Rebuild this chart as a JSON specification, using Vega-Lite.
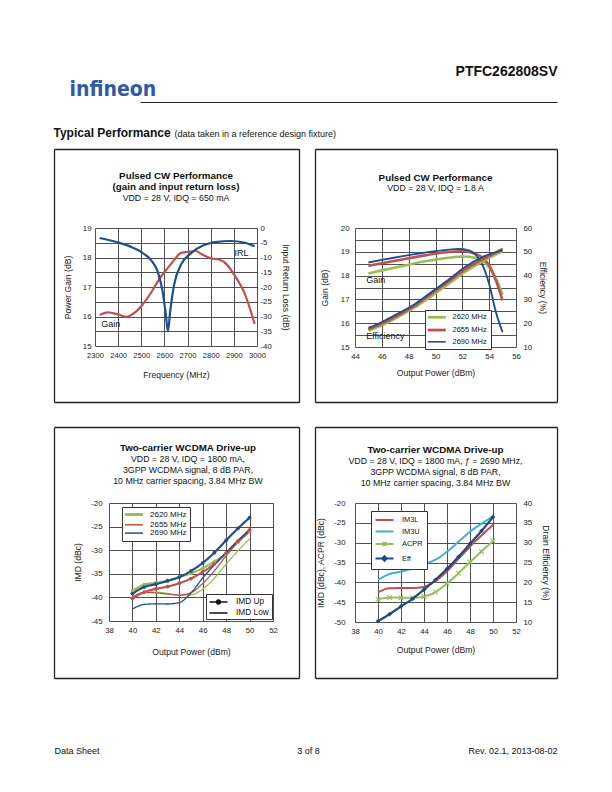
{
"$schema": "https://vega.github.io/schema/vega-lite/v6.json",
"background": "white",
"padding": {"left": 51, "top": 64, "right": 0, "bottom": 0},
"columns": 2,
"bounds": "flush",
"spacing": {"row": 156, "column": 82},
"resolve": {"scale": {"color": "independent", "strokeDash": "independent"}, "legend": {"color": "independent", "strokeDash": "independent"}},
"config": {
  "font": "Liberation Sans",
  "view": {"stroke": null},
  "axis": {"labelFont": "Liberation Sans", "labelFontSize": 7.8, "labelColor": "#222", "titleFont": "Liberation Sans", "titleFontSize": 8.6, "titleFontWeight": "normal", "titleColor": "#222", "ticks": false, "domain": false, "gridColor": "#3c3c3c", "gridWidth": 0.9, "gridOpacity": 1, "labelOverlap": false, "labelFlush": false},
  "title": {"font": "Liberation Sans", "fontSize": 9.8, "fontWeight": "bold", "color": "#111", "subtitleFont": "Liberation Sans", "subtitleFontSize": 8.8, "subtitleColor": "#111", "lineHeight": 11, "subtitleLineHeight": 11, "subtitlePadding": 2, "anchor": "middle", "frame": "group"},
  "legend": {"labelFont": "Liberation Sans", "labelFontSize": 7.8, "labelColor": "#111", "strokeColor": "#333", "fillColor": "white", "padding": 4}
},
"concat": [
{
  "width": 178, "height": 1,
  "data": {"values": [{"h": 0, "v": 0}]},
  "mark": {"type": "point", "opacity": 0},
  "encoding": {
    "x": {"field": "h", "type": "quantitative", "scale": {"domain": [0, 1], "range": [45, 462]},
      "axis": {"orient": "bottom", "offset": 30, "domain": true, "domainColor": "#222", "domainWidth": 1.2, "labels": false, "grid": false,
        "title": "Typical Performance", "titleFontSize": 12, "titleFontWeight": "bold", "titleColor": "#111", "titleX": -42, "titleY": 34, "titleAlign": "left", "titleBaseline": "alphabetic"}},
    "y": {"field": "v", "type": "quantitative", "scale": {"domain": [0, 1]},
      "axis": {"labels": false, "grid": false, "title": "infineon", "titleFont": "DejaVu Sans Condensed", "titleFontSize": 21, "titleFontWeight": "bold", "titleColor": "#2e5aa7", "titleAngle": 0, "titleX": -26, "titleY": 24, "titleAlign": "left", "titleBaseline": "alphabetic"}}
  }
},
{
  "width": 161, "height": 1,
  "data": {"values": [{"h": 0, "v": 0}]},
  "mark": {"type": "point", "opacity": 0},
  "encoding": {
    "x": {"field": "h", "type": "quantitative", "scale": {"domain": [0, 1]},
      "axis": {"orient": "bottom", "offset": 30, "labels": false, "grid": false,
        "title": "(data taken in a reference design fixture)", "titleFontSize": 9, "titleColor": "#111", "titleX": -181, "titleY": 34, "titleAlign": "left", "titleBaseline": "alphabetic"}},
    "y": {"field": "v", "type": "quantitative", "scale": {"domain": [0, 1]},
      "axis": {"labels": false, "grid": false, "title": "PTFC262808SV", "titleFontSize": 14, "titleFontWeight": "bold", "titleColor": "#111", "titleAngle": 0, "titleX": 202, "titleY": 4, "titleAlign": "right", "titleBaseline": "alphabetic"}}
  }
},
{
  "width": 162, "height": 118,
  "title": {"text": ["Pulsed CW Performance", "(gain and input return loss)"], "subtitle": "VDD = 28 V, IDQ = 650 mA", "offset": -54},
  "data": {"values": [
    {"f": 2320, "s": "Gain", "v": 16.05}, {"f": 2355, "s": "Gain", "v": 16.14}, {"f": 2400, "s": "Gain", "v": 16.07}, {"f": 2435, "s": "Gain", "v": 15.99},
    {"f": 2470, "s": "Gain", "v": 16.12}, {"f": 2505, "s": "Gain", "v": 16.40}, {"f": 2540, "s": "Gain", "v": 16.78}, {"f": 2578, "s": "Gain", "v": 17.27},
    {"f": 2613, "s": "Gain", "v": 17.63}, {"f": 2642, "s": "Gain", "v": 17.91}, {"f": 2668, "s": "Gain", "v": 18.14}, {"f": 2700, "s": "Gain", "v": 18.19},
    {"f": 2735, "s": "Gain", "v": 18.22}, {"f": 2764, "s": "Gain", "v": 18.10}, {"f": 2800, "s": "Gain", "v": 17.97}, {"f": 2836, "s": "Gain", "v": 17.93},
    {"f": 2871, "s": "Gain", "v": 17.75}, {"f": 2907, "s": "Gain", "v": 17.35}, {"f": 2943, "s": "Gain", "v": 16.85}, {"f": 2990, "s": "Gain", "v": 15.75},
    {"f": 2320, "s": "IRL", "v": -3.4}, {"f": 2400, "s": "IRL", "v": -4.9}, {"f": 2456, "s": "IRL", "v": -6.4}, {"f": 2499, "s": "IRL", "v": -8.1},
    {"f": 2542, "s": "IRL", "v": -10.9}, {"f": 2571, "s": "IRL", "v": -14.8}, {"f": 2592, "s": "IRL", "v": -21.5}, {"f": 2606, "s": "IRL", "v": -29.3},
    {"f": 2615, "s": "IRL", "v": -35.0}, {"f": 2625, "s": "IRL", "v": -28.2}, {"f": 2642, "s": "IRL", "v": -19.2}, {"f": 2671, "s": "IRL", "v": -12.5},
    {"f": 2714, "s": "IRL", "v": -8.6}, {"f": 2771, "s": "IRL", "v": -5.8}, {"f": 2828, "s": "IRL", "v": -4.7}, {"f": 2886, "s": "IRL", "v": -4.4},
    {"f": 2943, "s": "IRL", "v": -4.9}, {"f": 2990, "s": "IRL", "v": -6.2}
  ]},
  "resolve": {"scale": {"x": "independent", "y": "independent"}},
  "layer": [
    {"resolve": {"scale": {"y": "independent"}},
     "layer": [
      {"layer": [
        {"transform": [{"filter": "datum.s === 'Gain'"}],
         "mark": {"type": "line", "color": "#c0504d", "strokeWidth": 2.2, "interpolate": "monotone"},
         "encoding": {
           "x": {"field": "f", "type": "quantitative", "scale": {"domain": [2300, 3000], "nice": false, "zero": false}, "axis": {"values": [2300, 2400, 2500, 2600, 2700, 2800, 2900, 3000], "labelExpr": "'' + datum.value", "labelFontSize": 7.6, "grid": true, "labelPadding": 5, "title": "Frequency (MHz)", "titlePadding": 12}},
           "y": {"field": "v", "type": "quantitative", "scale": {"domain": [15, 19], "nice": false, "zero": false}, "axis": {"values": [15, 15.5, 16, 16.5, 17, 17.5, 18, 18.5, 19], "labelExpr": "datum.value % 1 === 0 ? '' + datum.value : ''", "grid": true, "labelPadding": 4, "title": "Power Gain (dB)", "titlePadding": 10}}
         }},
        {"data": {"values": [{"t": "Gain", "f": 2327, "v": 15.74}, {"t": "IRL", "f": 2903, "v": 18.14}]},
         "mark": {"type": "text", "align": "left", "baseline": "middle", "fontSize": 9, "color": "#111"},
         "encoding": {
           "x": {"field": "f", "type": "quantitative", "scale": {"domain": [2300, 3000], "nice": false, "zero": false}, "axis": {"values": [2300, 2400, 2500, 2600, 2700, 2800, 2900, 3000], "labelExpr": "'' + datum.value", "labelFontSize": 7.6, "grid": true, "labelPadding": 5, "title": "Frequency (MHz)", "titlePadding": 12}},
           "y": {"field": "v", "type": "quantitative", "scale": {"domain": [15, 19], "nice": false, "zero": false}, "axis": {"values": [15, 15.5, 16, 16.5, 17, 17.5, 18, 18.5, 19], "labelExpr": "datum.value % 1 === 0 ? '' + datum.value : ''", "grid": true, "labelPadding": 4, "title": "Power Gain (dB)", "titlePadding": 10}},
           "text": {"field": "t"}
         }}
      ]},
      {"transform": [{"filter": "datum.s === 'IRL'"}],
       "mark": {"type": "line", "color": "#1f4e8c", "strokeWidth": 2.2, "interpolate": "monotone"},
       "encoding": {
         "x": {"field": "f", "type": "quantitative", "scale": {"domain": [2300, 3000], "nice": false, "zero": false}, "axis": {"values": [2300, 2400, 2500, 2600, 2700, 2800, 2900, 3000], "labelExpr": "'' + datum.value", "labelFontSize": 7.6, "grid": true, "labelPadding": 5, "title": "Frequency (MHz)", "titlePadding": 12}},
         "y": {"field": "v", "type": "quantitative", "scale": {"domain": [-40, 0], "nice": false, "zero": false}, "axis": {"orient": "right", "values": [-40, -35, -30, -25, -20, -15, -10, -5, 0], "labelExpr": "'' + datum.value", "grid": false, "labelPadding": 3, "title": "Input Return Loss (dB)", "titlePadding": 9}}
       }}
    ]},
    {"data": {"values": [{"b": 0}]}, "mark": {"type": "point", "opacity": 0},
     "encoding": {
       "x": {"field": "b", "type": "quantitative", "scale": {"domain": [0, 1], "range": [-41, 204]}, "axis": {"orient": "top", "offset": 79, "domain": true, "domainColor": "#222", "domainWidth": 1.3, "labels": false, "grid": false, "title": null}},
       "y": {"field": "b", "type": "quantitative", "scale": {"domain": [0, 1], "range": [174, -79]}, "axis": {"orient": "left", "offset": 41, "domain": true, "domainColor": "#222", "domainWidth": 1.3, "labels": false, "grid": false, "title": null}}
     }},
    {"data": {"values": [{"b": 0}]}, "mark": {"type": "point", "opacity": 0},
     "encoding": {
       "x": {"field": "b", "type": "quantitative", "scale": {"domain": [0, 1], "range": [-41, 204]}, "axis": {"orient": "bottom", "offset": 56, "domain": true, "domainColor": "#222", "domainWidth": 1.3, "labels": false, "grid": false, "title": null}},
       "y": {"field": "b", "type": "quantitative", "scale": {"domain": [0, 1], "range": [174, -79]}, "axis": {"orient": "right", "offset": 42, "domain": true, "domainColor": "#222", "domainWidth": 1.3, "labels": false, "grid": false, "title": null}}
     }}
  ]
},
{
  "width": 161, "height": 119,
  "title": {"text": "Pulsed CW Performance", "subtitle": "VDD = 28 V, IDQ = 1.8 A", "offset": -44.2},
  "data": {"values": [
    {"P": 45, "freq": "2620 MHz", "k": "G", "v": 18.09}, {"P": 46, "freq": "2620 MHz", "k": "G", "v": 18.22}, {"P": 47, "freq": "2620 MHz", "k": "G", "v": 18.34}, {"P": 48, "freq": "2620 MHz", "k": "G", "v": 18.46},
    {"P": 49, "freq": "2620 MHz", "k": "G", "v": 18.58}, {"P": 50, "freq": "2620 MHz", "k": "G", "v": 18.67}, {"P": 51, "freq": "2620 MHz", "k": "G", "v": 18.75}, {"P": 52, "freq": "2620 MHz", "k": "G", "v": 18.80},
    {"P": 53, "freq": "2620 MHz", "k": "G", "v": 18.74}, {"P": 53.7, "freq": "2620 MHz", "k": "G", "v": 18.54}, {"P": 54.4, "freq": "2620 MHz", "k": "G", "v": 18.0}, {"P": 55, "freq": "2620 MHz", "k": "G", "v": 17.2},
    {"P": 45, "freq": "2655 MHz", "k": "G", "v": 18.41}, {"P": 46, "freq": "2655 MHz", "k": "G", "v": 18.52}, {"P": 47, "freq": "2655 MHz", "k": "G", "v": 18.62}, {"P": 48, "freq": "2655 MHz", "k": "G", "v": 18.73},
    {"P": 49, "freq": "2655 MHz", "k": "G", "v": 18.83}, {"P": 50, "freq": "2655 MHz", "k": "G", "v": 18.92}, {"P": 51, "freq": "2655 MHz", "k": "G", "v": 18.99}, {"P": 52, "freq": "2655 MHz", "k": "G", "v": 19.02},
    {"P": 52.7, "freq": "2655 MHz", "k": "G", "v": 18.96}, {"P": 53.4, "freq": "2655 MHz", "k": "G", "v": 18.8}, {"P": 54, "freq": "2655 MHz", "k": "G", "v": 18.43}, {"P": 54.5, "freq": "2655 MHz", "k": "G", "v": 17.8}, {"P": 55, "freq": "2655 MHz", "k": "G", "v": 16.96},
    {"P": 45, "freq": "2690 MHz", "k": "G", "v": 18.55}, {"P": 46, "freq": "2690 MHz", "k": "G", "v": 18.66}, {"P": 47, "freq": "2690 MHz", "k": "G", "v": 18.76}, {"P": 48, "freq": "2690 MHz", "k": "G", "v": 18.86},
    {"P": 49, "freq": "2690 MHz", "k": "G", "v": 18.95}, {"P": 50, "freq": "2690 MHz", "k": "G", "v": 19.03}, {"P": 51, "freq": "2690 MHz", "k": "G", "v": 19.09}, {"P": 51.7, "freq": "2690 MHz", "k": "G", "v": 19.12},
    {"P": 52.5, "freq": "2690 MHz", "k": "G", "v": 19.06}, {"P": 53, "freq": "2690 MHz", "k": "G", "v": 18.88}, {"P": 53.5, "freq": "2690 MHz", "k": "G", "v": 18.45}, {"P": 54, "freq": "2690 MHz", "k": "G", "v": 17.65},
    {"P": 54.5, "freq": "2690 MHz", "k": "G", "v": 16.47}, {"P": 55, "freq": "2690 MHz", "k": "G", "v": 15.62},
    {"P": 45, "freq": "2620 MHz", "k": "E", "v": 16.9}, {"P": 46, "freq": "2620 MHz", "k": "E", "v": 19.1}, {"P": 47.2, "freq": "2620 MHz", "k": "E", "v": 22.6}, {"P": 48.5, "freq": "2620 MHz", "k": "E", "v": 26.8},
    {"P": 49.7, "freq": "2620 MHz", "k": "E", "v": 31.4}, {"P": 51, "freq": "2620 MHz", "k": "E", "v": 36.6}, {"P": 52.2, "freq": "2620 MHz", "k": "E", "v": 41.5}, {"P": 53.5, "freq": "2620 MHz", "k": "E", "v": 46.0}, {"P": 55, "freq": "2620 MHz", "k": "E", "v": 50.2},
    {"P": 45, "freq": "2655 MHz", "k": "E", "v": 17.4}, {"P": 46, "freq": "2655 MHz", "k": "E", "v": 19.8}, {"P": 47.2, "freq": "2655 MHz", "k": "E", "v": 23.3}, {"P": 48.5, "freq": "2655 MHz", "k": "E", "v": 27.5},
    {"P": 49.7, "freq": "2655 MHz", "k": "E", "v": 32.4}, {"P": 51, "freq": "2655 MHz", "k": "E", "v": 37.6}, {"P": 52.2, "freq": "2655 MHz", "k": "E", "v": 42.6}, {"P": 53.5, "freq": "2655 MHz", "k": "E", "v": 46.8}, {"P": 55, "freq": "2655 MHz", "k": "E", "v": 51.2},
    {"P": 45, "freq": "2690 MHz", "k": "E", "v": 18.0}, {"P": 46, "freq": "2690 MHz", "k": "E", "v": 20.5}, {"P": 47.2, "freq": "2690 MHz", "k": "E", "v": 24.0}, {"P": 48.5, "freq": "2690 MHz", "k": "E", "v": 28.2},
    {"P": 49.7, "freq": "2690 MHz", "k": "E", "v": 33.1}, {"P": 51, "freq": "2690 MHz", "k": "E", "v": 38.4}, {"P": 52.2, "freq": "2690 MHz", "k": "E", "v": 43.6}, {"P": 53.5, "freq": "2690 MHz", "k": "E", "v": 47.8}, {"P": 55, "freq": "2690 MHz", "k": "E", "v": 50.6}
  ]},
  "resolve": {"scale": {"x": "independent", "y": "independent"}},
  "layer": [
    {"resolve": {"scale": {"y": "independent"}},
     "layer": [
      {"layer": [
        {"transform": [{"filter": "datum.k === 'G'"}],
         "mark": {"type": "line", "interpolate": "monotone"},
         "encoding": {
           "x": {"field": "P", "type": "quantitative", "scale": {"domain": [44, 56], "nice": false, "zero": false}, "axis": {"values": [44, 46, 48, 50, 52, 54, 56], "labelExpr": "'' + datum.value", "grid": true, "labelPadding": 5, "title": "Output Power (dBm)", "titlePadding": 9}},
           "y": {"field": "v", "type": "quantitative", "scale": {"domain": [15, 20], "nice": false, "zero": false}, "axis": {"values": [15, 15.5, 16, 16.5, 17, 17.5, 18, 18.5, 19, 19.5, 20], "labelExpr": "datum.value % 1 === 0 ? '' + datum.value : ''", "grid": true, "labelPadding": 6, "title": "Gain (dB)", "titlePadding": 11}},
           "color": {"field": "freq", "type": "nominal", "scale": {"domain": ["2620 MHz", "2655 MHz", "2690 MHz"], "range": ["#96be55", "#c0504d", "#1f4e8c"]},
             "legend": {"orient": "none", "legendX": 70, "legendY": 82, "title": null, "symbolType": "M-2,0L2,0", "symbolSize": 81, "symbolOffset": 4.5, "labelOffset": 12, "symbolStrokeWidth": 2.6, "rowPadding": 0.8, "padding": 3.5, "strokeColor": "#333", "fillColor": "white", "labelFontSize": 7.5,
               "encode": {"symbols": {"update": {"strokeWidth": {"signal": "datum.value === '2690 MHz' ? 1.6 : 2.8"}}}}}},
           "strokeWidth": {"condition": {"test": "datum.freq === '2690 MHz'", "value": 1.9}, "value": 2.6}
         }},
        {"data": {"values": [{"t": "Gain", "P": 44.83, "v": 17.8}, {"t": "Efficiency", "P": 44.83, "v": 15.46}]},
         "mark": {"type": "text", "align": "left", "baseline": "middle", "fontSize": 9, "color": "#111"},
         "encoding": {
           "x": {"field": "P", "type": "quantitative", "scale": {"domain": [44, 56], "nice": false, "zero": false}, "axis": {"values": [44, 46, 48, 50, 52, 54, 56], "labelExpr": "'' + datum.value", "grid": true, "labelPadding": 5, "title": "Output Power (dBm)", "titlePadding": 9}},
           "y": {"field": "v", "type": "quantitative", "scale": {"domain": [15, 20], "nice": false, "zero": false}, "axis": {"values": [15, 15.5, 16, 16.5, 17, 17.5, 18, 18.5, 19, 19.5, 20], "labelExpr": "datum.value % 1 === 0 ? '' + datum.value : ''", "grid": true, "labelPadding": 6, "title": "Gain (dB)", "titlePadding": 11}},
           "text": {"field": "t"}
         }}
      ]},
      {"transform": [{"filter": "datum.k === 'E'"}],
       "mark": {"type": "line", "interpolate": "monotone"},
       "encoding": {
         "x": {"field": "P", "type": "quantitative", "scale": {"domain": [44, 56], "nice": false, "zero": false}, "axis": {"values": [44, 46, 48, 50, 52, 54, 56], "labelExpr": "'' + datum.value", "grid": true, "labelPadding": 5, "title": "Output Power (dBm)", "titlePadding": 9}},
         "y": {"field": "v", "type": "quantitative", "scale": {"domain": [10, 60], "nice": false, "zero": false}, "axis": {"orient": "right", "values": [10, 20, 30, 40, 50, 60], "labelExpr": "'' + datum.value", "grid": false, "labelPadding": 7, "title": "Efficiency (%)", "titlePadding": 6}},
         "color": {"field": "freq", "type": "nominal", "scale": {"domain": ["2620 MHz", "2655 MHz", "2690 MHz"], "range": ["#96be55", "#c0504d", "#1f4e8c"]}, "legend": null},
         "strokeWidth": {"condition": {"test": "datum.freq === '2690 MHz'", "value": 1.9}, "value": 2.6}
       }}
    ]},
    {"data": {"values": [{"b": 0}]}, "mark": {"type": "point", "opacity": 0},
     "encoding": {
       "x": {"field": "b", "type": "quantitative", "scale": {"domain": [0, 1], "range": [-40, 202]}, "axis": {"orient": "top", "offset": 79, "domain": true, "domainColor": "#222", "domainWidth": 1.3, "labels": false, "grid": false, "title": null}},
       "y": {"field": "b", "type": "quantitative", "scale": {"domain": [0, 1], "range": [174, -79]}, "axis": {"orient": "left", "offset": 40, "domain": true, "domainColor": "#222", "domainWidth": 1.3, "labels": false, "grid": false, "title": null}}
     }},
    {"data": {"values": [{"b": 0}]}, "mark": {"type": "point", "opacity": 0},
     "encoding": {
       "x": {"field": "b", "type": "quantitative", "scale": {"domain": [0, 1], "range": [-40, 202]}, "axis": {"orient": "bottom", "offset": 55, "domain": true, "domainColor": "#222", "domainWidth": 1.3, "labels": false, "grid": false, "title": null}},
       "y": {"field": "b", "type": "quantitative", "scale": {"domain": [0, 1], "range": [174, -79]}, "axis": {"orient": "right", "offset": 41, "domain": true, "domainColor": "#222", "domainWidth": 1.3, "labels": false, "grid": false, "title": null}}
     }}
  ]
},
{
  "width": 178, "height": 118,
  "title": {"text": "Two-carrier WCDMA Drive-up", "subtitle": ["VDD = 28 V, IDQ = 1800 mA,", "3GPP WCDMA signal, 8 dB PAR,", "10 MHz carrier spacing, 3.84 MHz BW"], "offset": -58.6, "dx": 4},
  "data": {"values": [
    {"P": 40, "freq": "2620 MHz", "t": "IMD Up", "v": -38.6}, {"P": 41, "freq": "2620 MHz", "t": "IMD Up", "v": -37.3}, {"P": 42, "freq": "2620 MHz", "t": "IMD Up", "v": -36.9}, {"P": 43, "freq": "2620 MHz", "t": "IMD Up", "v": -36.4},
    {"P": 44, "freq": "2620 MHz", "t": "IMD Up", "v": -35.7}, {"P": 45, "freq": "2620 MHz", "t": "IMD Up", "v": -34.9}, {"P": 46, "freq": "2620 MHz", "t": "IMD Up", "v": -33.8}, {"P": 47, "freq": "2620 MHz", "t": "IMD Up", "v": -32.4},
    {"P": 48, "freq": "2620 MHz", "t": "IMD Up", "v": -30.7}, {"P": 49, "freq": "2620 MHz", "t": "IMD Up", "v": -28.3}, {"P": 50, "freq": "2620 MHz", "t": "IMD Up", "v": -25.9},
    {"P": 40, "freq": "2655 MHz", "t": "IMD Up", "v": -40.2}, {"P": 41, "freq": "2655 MHz", "t": "IMD Up", "v": -38.9}, {"P": 42, "freq": "2655 MHz", "t": "IMD Up", "v": -38.2}, {"P": 43, "freq": "2655 MHz", "t": "IMD Up", "v": -37.7},
    {"P": 44, "freq": "2655 MHz", "t": "IMD Up", "v": -37.0}, {"P": 45, "freq": "2655 MHz", "t": "IMD Up", "v": -36.0}, {"P": 46, "freq": "2655 MHz", "t": "IMD Up", "v": -34.6}, {"P": 47, "freq": "2655 MHz", "t": "IMD Up", "v": -32.9},
    {"P": 48, "freq": "2655 MHz", "t": "IMD Up", "v": -30.6}, {"P": 49, "freq": "2655 MHz", "t": "IMD Up", "v": -28.1}, {"P": 50, "freq": "2655 MHz", "t": "IMD Up", "v": -25.7},
    {"P": 40, "freq": "2690 MHz", "t": "IMD Up", "v": -39.2}, {"P": 41, "freq": "2690 MHz", "t": "IMD Up", "v": -37.8}, {"P": 42, "freq": "2690 MHz", "t": "IMD Up", "v": -37.2}, {"P": 43, "freq": "2690 MHz", "t": "IMD Up", "v": -36.5},
    {"P": 44, "freq": "2690 MHz", "t": "IMD Up", "v": -35.7}, {"P": 45, "freq": "2690 MHz", "t": "IMD Up", "v": -34.4}, {"P": 46, "freq": "2690 MHz", "t": "IMD Up", "v": -32.7}, {"P": 47, "freq": "2690 MHz", "t": "IMD Up", "v": -30.5},
    {"P": 48, "freq": "2690 MHz", "t": "IMD Up", "v": -27.9}, {"P": 49, "freq": "2690 MHz", "t": "IMD Up", "v": -25.4}, {"P": 50, "freq": "2690 MHz", "t": "IMD Up", "v": -23.1},
    {"P": 40, "freq": "2620 MHz", "t": "IMD Low", "v": -39.85}, {"P": 41, "freq": "2620 MHz", "t": "IMD Low", "v": -38.95}, {"P": 42, "freq": "2620 MHz", "t": "IMD Low", "v": -38.9}, {"P": 43, "freq": "2620 MHz", "t": "IMD Low", "v": -39.15},
    {"P": 44, "freq": "2620 MHz", "t": "IMD Low", "v": -39.55}, {"P": 45, "freq": "2620 MHz", "t": "IMD Low", "v": -39.45}, {"P": 46, "freq": "2620 MHz", "t": "IMD Low", "v": -38.25}, {"P": 47, "freq": "2620 MHz", "t": "IMD Low", "v": -35.9},
    {"P": 48, "freq": "2620 MHz", "t": "IMD Low", "v": -32.95}, {"P": 49, "freq": "2620 MHz", "t": "IMD Low", "v": -30.15}, {"P": 50, "freq": "2620 MHz", "t": "IMD Low", "v": -27.6},
    {"P": 40, "freq": "2655 MHz", "t": "IMD Low", "v": -40.0}, {"P": 41, "freq": "2655 MHz", "t": "IMD Low", "v": -38.95}, {"P": 42, "freq": "2655 MHz", "t": "IMD Low", "v": -39.05}, {"P": 43, "freq": "2655 MHz", "t": "IMD Low", "v": -39.3},
    {"P": 44, "freq": "2655 MHz", "t": "IMD Low", "v": -39.5}, {"P": 45, "freq": "2655 MHz", "t": "IMD Low", "v": -39.0}, {"P": 46, "freq": "2655 MHz", "t": "IMD Low", "v": -37.05}, {"P": 47, "freq": "2655 MHz", "t": "IMD Low", "v": -34.35},
    {"P": 48, "freq": "2655 MHz", "t": "IMD Low", "v": -31.2}, {"P": 49, "freq": "2655 MHz", "t": "IMD Low", "v": -28.35}, {"P": 50, "freq": "2655 MHz", "t": "IMD Low", "v": -26.15},
    {"P": 40, "freq": "2690 MHz", "t": "IMD Low", "v": -42.45}, {"P": 41, "freq": "2690 MHz", "t": "IMD Low", "v": -41.5}, {"P": 42, "freq": "2690 MHz", "t": "IMD Low", "v": -41.35}, {"P": 43, "freq": "2690 MHz", "t": "IMD Low", "v": -41.4},
    {"P": 44, "freq": "2690 MHz", "t": "IMD Low", "v": -41.1}, {"P": 45, "freq": "2690 MHz", "t": "IMD Low", "v": -39.05}, {"P": 46, "freq": "2690 MHz", "t": "IMD Low", "v": -35.9}, {"P": 47, "freq": "2690 MHz", "t": "IMD Low", "v": -33.1},
    {"P": 48, "freq": "2690 MHz", "t": "IMD Low", "v": -30.45}, {"P": 49, "freq": "2690 MHz", "t": "IMD Low", "v": -28.0}, {"P": 50, "freq": "2690 MHz", "t": "IMD Low", "v": -25.65}
  ]},
  "resolve": {"scale": {"x": "independent", "y": "independent"}},
  "layer": [
    {"layer": [
      {"mark": {"type": "line", "interpolate": "monotone"},
       "encoding": {
         "x": {"field": "P", "type": "quantitative", "scale": {"domain": [38, 52], "range": [14, 178], "nice": false, "zero": false}, "axis": {"values": [38, 40, 42, 44, 46, 48, 50, 52], "labelExpr": "'' + datum.value", "grid": true, "labelPadding": 5, "title": "Output Power (dBm)", "titlePadding": 14}},
         "y": {"field": "v", "type": "quantitative", "scale": {"domain": [-45, -20], "nice": false, "zero": false}, "axis": {"values": [-45, -40, -35, -30, -25, -20], "labelExpr": "'' + datum.value", "grid": true, "offset": -14, "labelPadding": 7, "title": "IMD (dBc)", "titlePadding": 8}},
         "color": {"field": "freq", "type": "nominal", "scale": {"domain": ["2620 MHz", "2655 MHz", "2690 MHz"], "range": ["#96be55", "#c0504d", "#1f4e8c"]},
           "legend": {"orient": "none", "legendX": 27, "legendY": 4, "title": null, "symbolType": "M-2,0L2,0", "symbolSize": 81, "symbolOffset": 4.5, "labelOffset": 12, "symbolStrokeWidth": 2, "rowPadding": 0.3, "padding": 3.5, "strokeColor": "#333", "fillColor": "white", "labelFontSize": 8,
             "encode": {"symbols": {"update": {"strokeWidth": {"signal": "datum.value === '2620 MHz' ? 3 : 1.5"}}}}}},
         "strokeDash": {"field": "t", "type": "nominal", "scale": {"domain": ["IMD Up", "IMD Low"], "range": [[1, 0], [1, 0]]},
           "legend": {"orient": "none", "legendX": 111, "legendY": 91, "title": null, "symbolType": "M-2,0L2,0", "symbolSize": 81, "symbolOffset": 4.5, "labelOffset": 12, "rowPadding": 0, "padding": 2.5, "strokeColor": "#333", "fillColor": "white", "labelFontSize": 8.3,
             "encode": {"symbols": {"update": {"shape": {"signal": "datum.value === 'IMD Up' ? 'M-2,0L2,0M0.45,0A0.45,0.45,0,1,1,-0.45,0A0.45,0.45,0,1,1,0.45,0Z' : 'M-2,0L2,0'"}, "stroke": {"value": "#111"}, "fill": {"value": "#111"}, "strokeWidth": {"value": 1.4}, "opacity": {"value": 1}}}}}},
         "strokeWidth": {"condition": {"test": "datum.t === 'IMD Up'", "value": 2.2}, "value": 1.3}
       }},
      {"transform": [{"filter": "datum.t === 'IMD Up'"}],
       "mark": {"type": "point", "filled": true, "size": 14, "opacity": 1},
       "encoding": {
         "x": {"field": "P", "type": "quantitative", "scale": {"domain": [38, 52], "range": [14, 178], "nice": false, "zero": false}, "axis": {"values": [38, 40, 42, 44, 46, 48, 50, 52], "labelExpr": "'' + datum.value", "grid": true, "labelPadding": 5, "title": "Output Power (dBm)", "titlePadding": 14}},
         "y": {"field": "v", "type": "quantitative", "scale": {"domain": [-45, -20], "nice": false, "zero": false}, "axis": {"values": [-45, -40, -35, -30, -25, -20], "labelExpr": "'' + datum.value", "grid": true, "offset": -14, "labelPadding": 7, "title": "IMD (dBc)", "titlePadding": 8}},
         "color": {"field": "freq", "type": "nominal", "scale": {"domain": ["2620 MHz", "2655 MHz", "2690 MHz"], "range": ["#96be55", "#c0504d", "#1f4e8c"]}, "legend": null}
       }}
    ]},
    {"data": {"values": [{"b": 0}]}, "mark": {"type": "point", "opacity": 0},
     "encoding": {
       "x": {"field": "b", "type": "quantitative", "scale": {"domain": [0, 1], "range": [-41, 204]}, "axis": {"orient": "top", "offset": 76, "domain": true, "domainColor": "#222", "domainWidth": 1.3, "labels": false, "grid": false, "title": null}},
       "y": {"field": "b", "type": "quantitative", "scale": {"domain": [0, 1], "range": [175, -76]}, "axis": {"orient": "left", "offset": 41, "domain": true, "domainColor": "#222", "domainWidth": 1.3, "labels": false, "grid": false, "title": null}}
     }},
    {"data": {"values": [{"b": 0}]}, "mark": {"type": "point", "opacity": 0},
     "encoding": {
       "x": {"field": "b", "type": "quantitative", "scale": {"domain": [0, 1], "range": [-41, 204]}, "axis": {"orient": "bottom", "offset": 57, "domain": true, "domainColor": "#222", "domainWidth": 1.3, "labels": false, "grid": false, "title": null}},
       "y": {"field": "b", "type": "quantitative", "scale": {"domain": [0, 1], "range": [175, -76]}, "axis": {"orient": "right", "offset": 26, "domain": true, "domainColor": "#222", "domainWidth": 1.3, "labels": false, "grid": false, "title": null}}
     }}
  ]
},
{
  "width": 161, "height": 119,
  "title": {"text": "Two-carrier WCDMA Drive-up", "subtitle": ["VDD = 28 V, IDQ = 1800 mA, ƒ = 2690 MHz,", "3GPP WCDMA signal, 8 dB PAR,", "10 MHz carrier spacing, 3.84 MHz BW"], "offset": -61},
  "data": {"values": [
    {"P": 40, "s": "IM3L", "v": -42.5}, {"P": 41, "s": "IM3L", "v": -41.5}, {"P": 42, "s": "IM3L", "v": -41.4}, {"P": 43, "s": "IM3L", "v": -41.4}, {"P": 44, "s": "IM3L", "v": -41.15}, {"P": 45, "s": "IM3L", "v": -39.65},
    {"P": 46, "s": "IM3L", "v": -37.2}, {"P": 47, "s": "IM3L", "v": -34.1}, {"P": 48, "s": "IM3L", "v": -30.95}, {"P": 49, "s": "IM3L", "v": -28.2}, {"P": 50, "s": "IM3L", "v": -25.5},
    {"P": 40, "s": "IM3U", "v": -39.35}, {"P": 41, "s": "IM3U", "v": -37.9}, {"P": 42, "s": "IM3U", "v": -37.3}, {"P": 43, "s": "IM3U", "v": -36.55}, {"P": 44, "s": "IM3U", "v": -35.5}, {"P": 45, "s": "IM3U", "v": -34.3},
    {"P": 46, "s": "IM3U", "v": -32.3}, {"P": 47, "s": "IM3U", "v": -29.75}, {"P": 48, "s": "IM3U", "v": -27.25}, {"P": 49, "s": "IM3U", "v": -25.2}, {"P": 50, "s": "IM3U", "v": -23.35},
    {"P": 40, "s": "ACPR", "v": -44.3}, {"P": 41, "s": "ACPR", "v": -43.8}, {"P": 42, "s": "ACPR", "v": -43.9}, {"P": 43, "s": "ACPR", "v": -43.9}, {"P": 44, "s": "ACPR", "v": -43.6}, {"P": 45, "s": "ACPR", "v": -42.45},
    {"P": 46, "s": "ACPR", "v": -40.3}, {"P": 47, "s": "ACPR", "v": -37.7}, {"P": 48, "s": "ACPR", "v": -34.9}, {"P": 49, "s": "ACPR", "v": -32.2}, {"P": 50, "s": "ACPR", "v": -29.6},
    {"P": 40, "s": "Eff", "v": 10.2}, {"P": 41, "s": "Eff", "v": 11.95}, {"P": 42, "s": "Eff", "v": 13.95}, {"P": 43, "s": "Eff", "v": 15.85}, {"P": 44, "s": "Eff", "v": 18.15}, {"P": 45, "s": "Eff", "v": 20.65},
    {"P": 46, "s": "Eff", "v": 23.4}, {"P": 47, "s": "Eff", "v": 26.45}, {"P": 48, "s": "Eff", "v": 29.7}, {"P": 49, "s": "Eff", "v": 32.95}, {"P": 50, "s": "Eff", "v": 36.45}
  ]},
  "resolve": {"scale": {"x": "independent", "y": "independent"}},
  "layer": [
    {"resolve": {"scale": {"y": "independent"}},
     "layer": [
      {"layer": [
        {"transform": [{"filter": "datum.s !== 'Eff'"}],
         "mark": {"type": "line", "interpolate": "monotone", "strokeWidth": 2},
         "encoding": {
           "x": {"field": "P", "type": "quantitative", "scale": {"domain": [38, 52], "nice": false, "zero": false}, "axis": {"values": [38, 40, 42, 44, 46, 48, 50, 52], "labelExpr": "'' + datum.value", "grid": true, "labelPadding": 5, "title": "Output Power (dBm)", "titlePadding": 11}},
           "y": {"field": "v", "type": "quantitative", "scale": {"domain": [-50, -20], "nice": false, "zero": false}, "axis": {"values": [-50, -45, -40, -35, -30, -25, -20], "labelExpr": "'' + datum.value", "grid": true, "labelPadding": 10, "title": "IMD (dBc), ACPR (dBc)", "titlePadding": 8}},
           "color": {"field": "s", "type": "nominal", "scale": {"domain": ["IM3L", "IM3U", "ACPR", "Eff"], "range": ["#c0504d", "#44b0d0", "#96be55", "#1f4a85"]},
             "legend": {"orient": "none", "legendX": 16, "legendY": 8, "title": null, "symbolType": "M-2,0L2,0", "symbolSize": 81, "symbolOffset": 4.5, "labelOffset": 12, "symbolStrokeWidth": 2, "rowPadding": 1.5, "padding": 3.5, "strokeColor": "#333", "fillColor": "white", "labelFontSize": 7.4,
               "encode": {"symbols": {"update": {"shape": {"signal": "datum.value === 'ACPR' ? 'M-2,0L2,0M-0.4,-0.4L0.4,0.4M-0.4,0.4L0.4,-0.4' : datum.value === 'Eff' ? 'M-2,0L2,0M0,-0.5L0.5,0L0,0.5L-0.5,0Z' : 'M-2,0L2,0'"}, "fill": {"signal": "datum.value === 'Eff' ? '#1f4a85' : 'transparent'"}}}}}}
         }},
        {"transform": [{"filter": "datum.s === 'ACPR'"}],
         "mark": {"type": "point", "shape": "M-1,-1L1,1M-1,1L1,-1", "filled": false, "size": 22, "strokeWidth": 1.1, "opacity": 1},
         "encoding": {
           "x": {"field": "P", "type": "quantitative", "scale": {"domain": [38, 52], "nice": false, "zero": false}, "axis": {"values": [38, 40, 42, 44, 46, 48, 50, 52], "labelExpr": "'' + datum.value", "grid": true, "labelPadding": 5, "title": "Output Power (dBm)", "titlePadding": 11}},
           "y": {"field": "v", "type": "quantitative", "scale": {"domain": [-50, -20], "nice": false, "zero": false}, "axis": {"values": [-50, -45, -40, -35, -30, -25, -20], "labelExpr": "'' + datum.value", "grid": true, "labelPadding": 10, "title": "IMD (dBc), ACPR (dBc)", "titlePadding": 8}},
           "color": {"field": "s", "type": "nominal", "scale": {"domain": ["IM3L", "IM3U", "ACPR", "Eff"], "range": ["#c0504d", "#44b0d0", "#96be55", "#1f4a85"]}, "legend": null}
         }}
      ]},
      {"layer": [
        {"transform": [{"filter": "datum.s === 'Eff'"}],
         "mark": {"type": "line", "interpolate": "monotone", "strokeWidth": 2.2},
         "encoding": {
           "x": {"field": "P", "type": "quantitative", "scale": {"domain": [38, 52], "nice": false, "zero": false}, "axis": {"values": [38, 40, 42, 44, 46, 48, 50, 52], "labelExpr": "'' + datum.value", "grid": true, "labelPadding": 5, "title": "Output Power (dBm)", "titlePadding": 11}},
           "y": {"field": "v", "type": "quantitative", "scale": {"domain": [10, 40], "nice": false, "zero": false}, "axis": {"orient": "right", "values": [10, 15, 20, 25, 30, 35, 40], "labelExpr": "'' + datum.value", "grid": false, "labelPadding": 7, "title": "Drain Efficiency (%)", "titlePadding": 9}},
           "color": {"field": "s", "type": "nominal", "scale": {"domain": ["IM3L", "IM3U", "ACPR", "Eff"], "range": ["#c0504d", "#44b0d0", "#96be55", "#1f4a85"]}, "legend": null}
         }},
        {"transform": [{"filter": "datum.s === 'Eff'"}],
         "mark": {"type": "point", "shape": "diamond", "filled": true, "size": 22, "opacity": 1},
         "encoding": {
           "x": {"field": "P", "type": "quantitative", "scale": {"domain": [38, 52], "nice": false, "zero": false}, "axis": {"values": [38, 40, 42, 44, 46, 48, 50, 52], "labelExpr": "'' + datum.value", "grid": true, "labelPadding": 5, "title": "Output Power (dBm)", "titlePadding": 11}},
           "y": {"field": "v", "type": "quantitative", "scale": {"domain": [10, 40], "nice": false, "zero": false}, "axis": {"orient": "right", "values": [10, 15, 20, 25, 30, 35, 40], "labelExpr": "'' + datum.value", "grid": false, "labelPadding": 7, "title": "Drain Efficiency (%)", "titlePadding": 9}},
           "color": {"field": "s", "type": "nominal", "scale": {"domain": ["IM3L", "IM3U", "ACPR", "Eff"], "range": ["#c0504d", "#44b0d0", "#96be55", "#1f4a85"]}, "legend": null}
         }}
      ]}
    ]},
    {"data": {"values": [{"b": 0}]}, "mark": {"type": "point", "opacity": 0},
     "encoding": {
       "x": {"field": "b", "type": "quantitative", "scale": {"domain": [0, 1], "range": [-40, 202]}, "axis": {"orient": "top", "offset": 76, "domain": true, "domainColor": "#222", "domainWidth": 1.3, "labels": false, "grid": false, "title": null}},
       "y": {"field": "b", "type": "quantitative", "scale": {"domain": [0, 1], "range": [175, -76]}, "axis": {"orient": "left", "offset": 40, "domain": true, "domainColor": "#222", "domainWidth": 1.3, "labels": false, "grid": false, "title": null}}
     }},
    {"data": {"values": [{"b": 0}]}, "mark": {"type": "point", "opacity": 0},
     "encoding": {
       "x": {"field": "b", "type": "quantitative", "scale": {"domain": [0, 1], "range": [-40, 202]}, "axis": {"orient": "bottom", "offset": 56, "domain": true, "domainColor": "#222", "domainWidth": 1.3, "labels": false, "grid": false, "title": null}},
       "y": {"field": "b", "type": "quantitative", "scale": {"domain": [0, 1], "range": [175, -76]}, "axis": {"orient": "right", "offset": 41, "domain": true, "domainColor": "#222", "domainWidth": 1.3, "labels": false, "grid": false, "title": null}}
     }}
  ]
},
{
  "width": 178, "height": 1,
  "data": {"values": [{"h": 0, "v": 0}]},
  "mark": {"type": "point", "opacity": 0},
  "encoding": {
    "x": {"field": "h", "type": "quantitative", "scale": {"domain": [0, 1]},
      "axis": {"orient": "top", "labels": false, "grid": false, "title": "Data Sheet", "titleFontSize": 9, "titleColor": "#111", "titleX": -41, "titleY": -25, "titleAlign": "left", "titleBaseline": "alphabetic"}}
  }
},
{
  "width": 161, "height": 1,
  "data": {"values": [{"h": 0, "v": 0}]},
  "mark": {"type": "point", "opacity": 0},
  "encoding": {
    "x": {"field": "h", "type": "quantitative", "scale": {"domain": [0, 1]},
      "axis": {"orient": "top", "labels": false, "grid": false, "title": "3 of 8", "titleFontSize": 9, "titleColor": "#111", "titleX": -47, "titleY": -25, "titleAlign": "center", "titleBaseline": "alphabetic"}},
    "y": {"field": "v", "type": "quantitative", "scale": {"domain": [0, 1]},
      "axis": {"labels": false, "grid": false, "title": "Rev. 02.1, 2013-08-02", "titleFontSize": 9, "titleColor": "#111", "titleAngle": 0, "titleX": 202, "titleY": -25, "titleAlign": "right", "titleBaseline": "alphabetic"}}
  }
}
]
}
